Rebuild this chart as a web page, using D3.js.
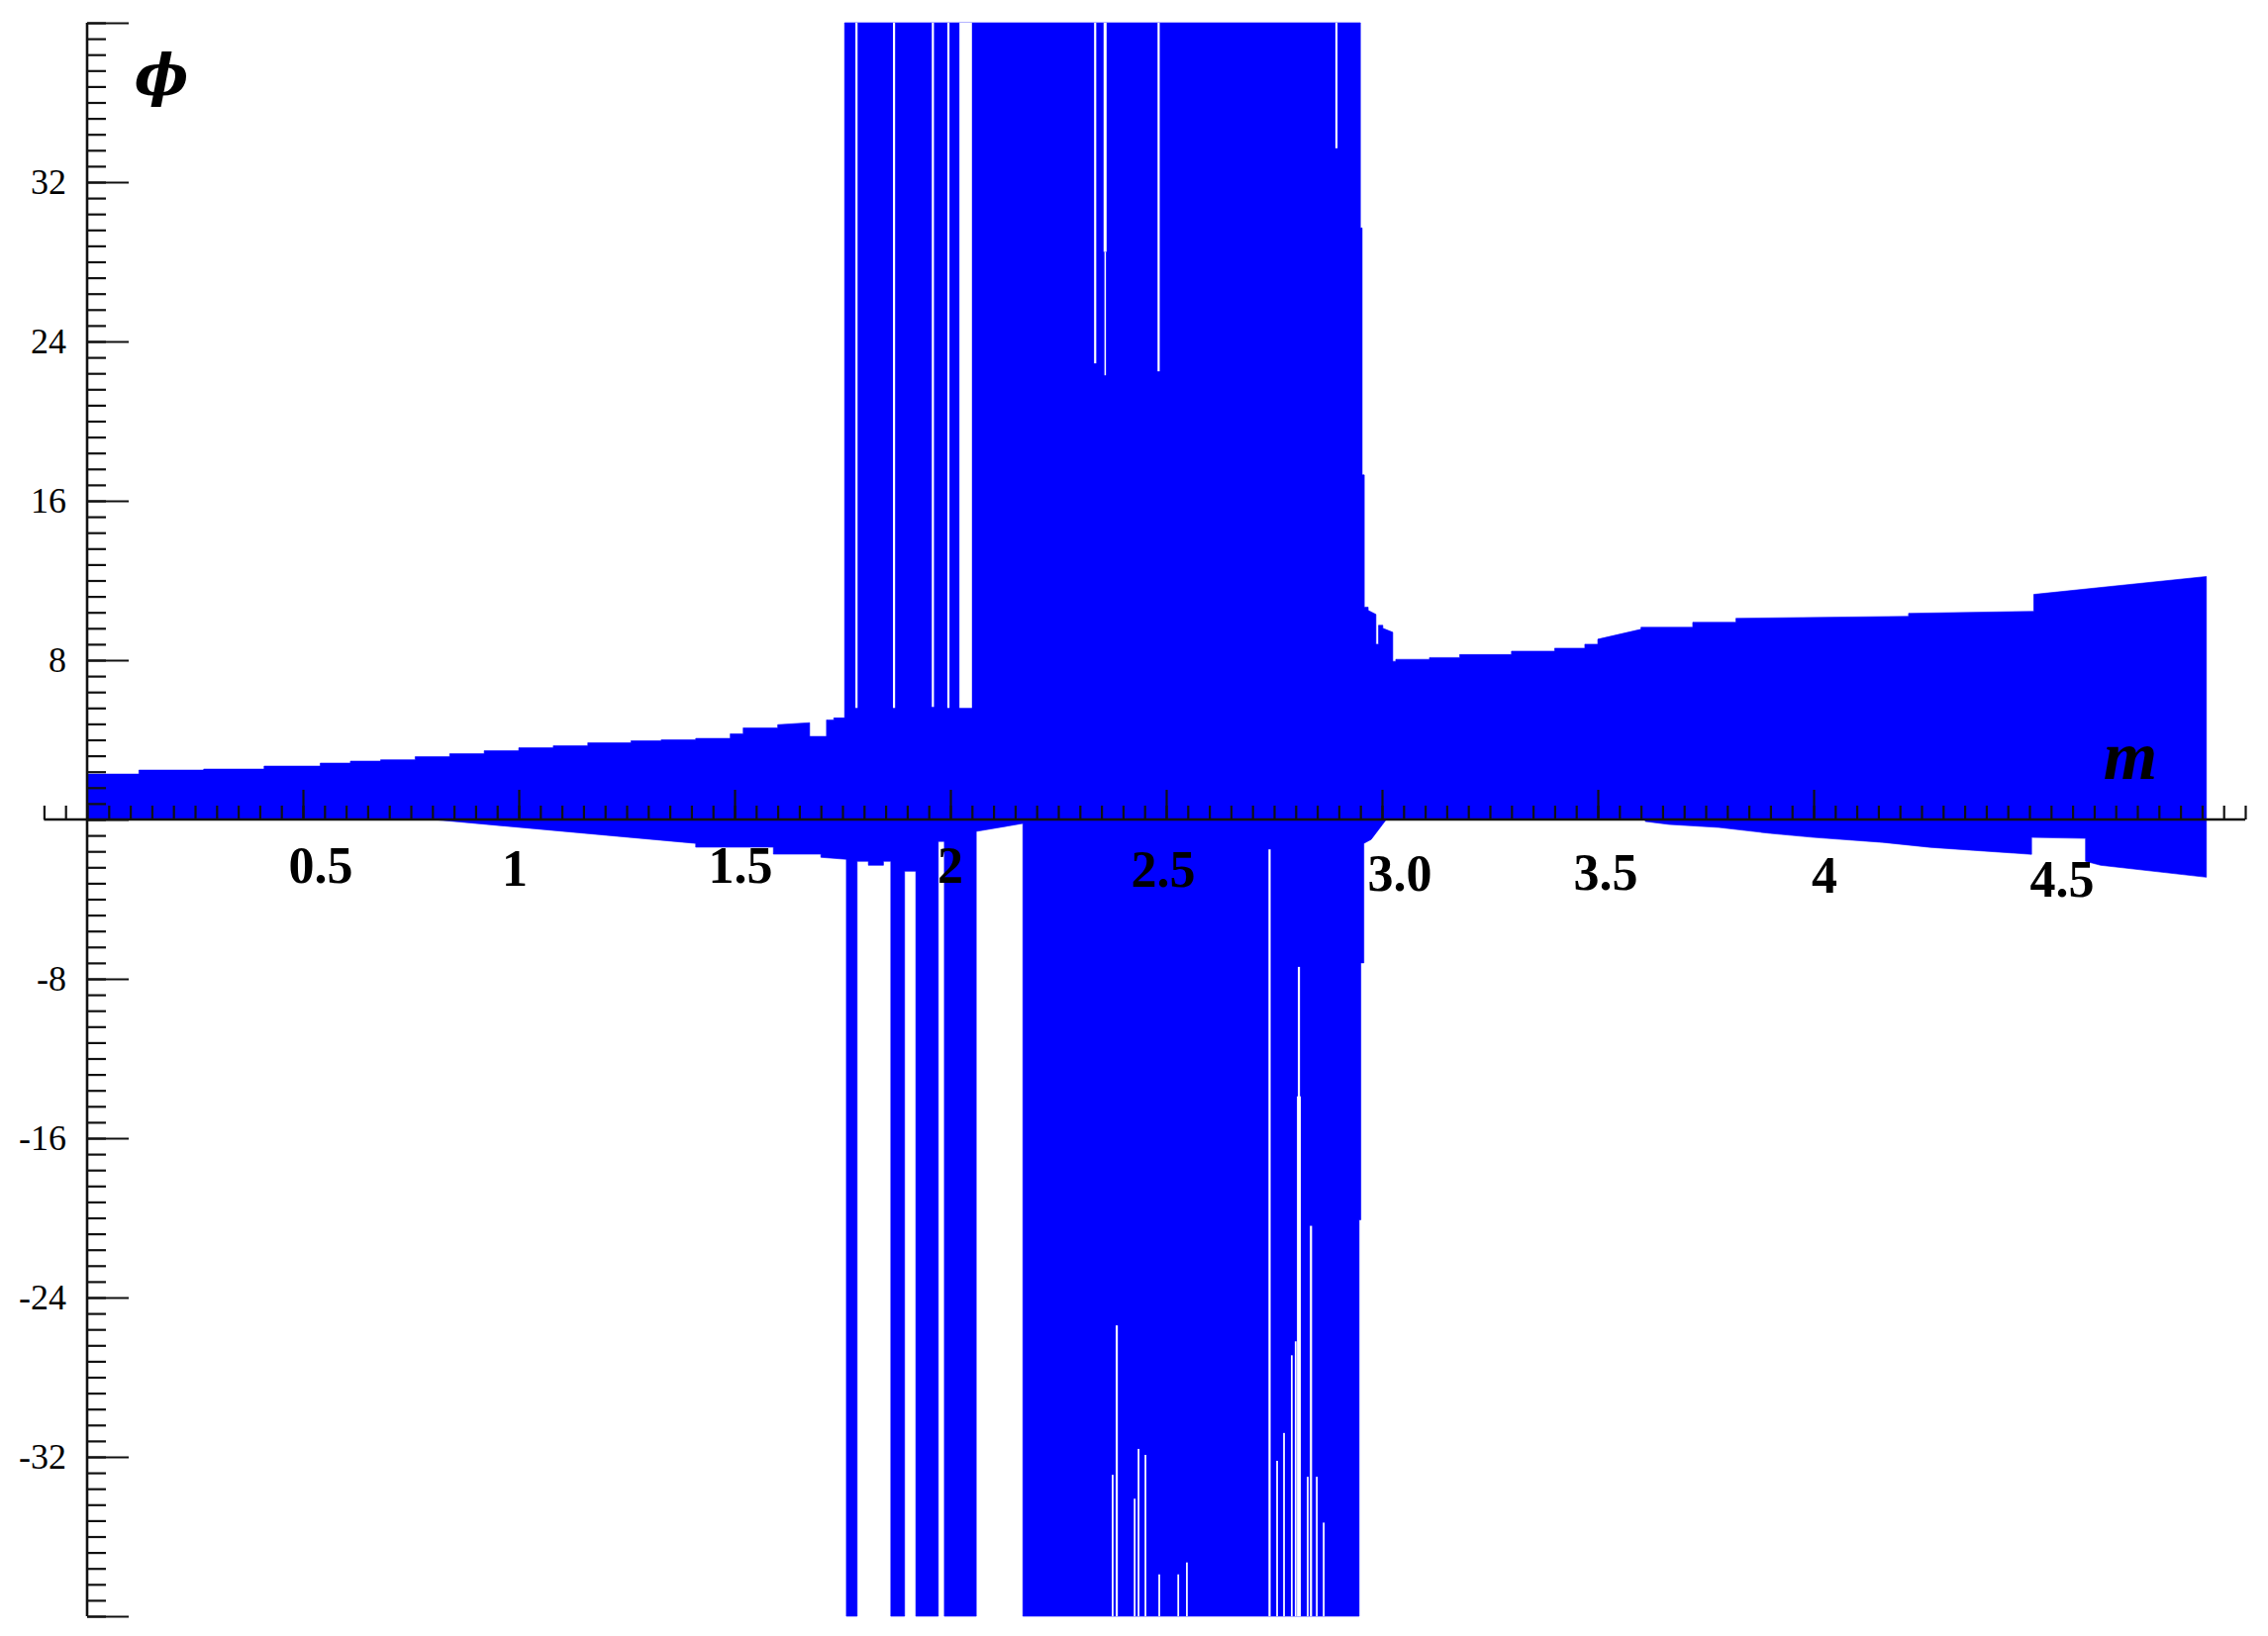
<!DOCTYPE html>
<html><head><meta charset="utf-8">
<script src="https://cdn.jsdelivr.net/npm/d3@7/dist/d3.min.js"></script>
<style>body{margin:0;background:#fff}svg{display:block}</style>
</head><body>
<svg id="chart" width="2291" height="1653"></svg>
<script>
// ---------- data ----------
// upper envelope: segment i spans upperM[i]..upperM[i+1], phi from upperStart[i] to upperEnd[i]
const upperM =     [0,0.12,0.27,0.41,0.54,0.61,0.68,0.76,0.84,0.92,1.0,1.08,1.16,1.26,1.33,1.41,1.49,1.52,1.60,1.674,1.713,1.73,1.755,2.950,2.954,2.959,2.968,2.986,2.992,3.002,3.025,3.032,3.11,3.18,3.30,3.40,3.47,3.50,3.60,3.72,3.82,4.22,4.51,4.91];
const upperStart = [2.28,2.48,2.53,2.68,2.83,2.93,3.0,3.15,3.3,3.45,3.6,3.7,3.85,3.95,4.0,4.07,4.3,4.6,4.76,4.17,5.0,5.1,40,29.7,17.3,10.66,10.5,8.8,9.75,9.6,7.94,8.04,8.13,8.28,8.45,8.6,8.8,9.05,9.65,9.9,10.1,10.35,11.3];
const upperEnd =   [2.28,2.48,2.53,2.68,2.83,2.93,3.0,3.15,3.3,3.45,3.6,3.7,3.85,3.95,4.0,4.07,4.3,4.6,4.86,4.17,5.0,5.1,40,29.7,17.3,10.66,10.3,8.8,9.75,9.4,7.94,8.04,8.13,8.28,8.45,8.6,8.8,9.55,9.65,9.9,10.2,10.45,12.2];

// lower envelope
const lowerM =     [0,0.80,1.41,1.59,1.70,1.759,1.784,1.81,1.845,1.862,1.894,1.920,1.972,1.986,2.060,2.168,2.947,2.951,2.958,2.975,3.01,3.61,3.665,3.78,3.90,4.0,4.16,4.27,4.37,4.505,4.63,4.665,4.91];
const lowerStart = [0,0,-1.39,-1.74,-1.9,-40,-2.1,-2.3,-2.1,-40,-2.6,-40,-1.1,-40,-0.6,-40,-20.1,-7.2,-1.2,-1.0,0,-0.1,-0.25,-0.4,-0.7,-0.9,-1.15,-1.4,-1.55,-0.9,-2.1,-2.3];
const lowerEnd =   [0,-1.2,-1.39,-1.74,-2.0,-40,-2.1,-2.3,-2.1,-40,-2.6,-40,-1.1,-40,-0.2,-40,-20.1,-7.2,-1.0,0,0,-0.25,-0.4,-0.7,-0.9,-1.15,-1.4,-1.55,-1.75,-0.95,-2.3,-2.9];

// white gaps inside the blue region: m from gapM0 to gapM1, phi from gapTop to gapBottom
const gapM0 =     [1.780,1.867,1.957,1.993,2.021,2.333,2.355,2.357,2.480,2.892, 2.737,2.805,2.803,2.833,2.383,2.374,2.425,2.434,2.450,2.482,2.526,2.546,2.755,2.771,2.789,2.798,2.826,2.847,2.863];
const gapM1 =     [1.785,1.872,1.962,1.998,2.050,2.338,2.362,2.360,2.485,2.897, 2.742,2.810,2.812,2.838,2.388,2.378,2.429,2.438,2.454,2.486,2.530,2.550,2.759,2.775,2.793,2.802,2.830,2.851,2.867];
const gapTop =    [40,40,40,40,40,40,40,28.5,40,40, -1.5,-7.4,-13.9,-20.4,-25.4,-32.9,-34.1,-31.6,-31.9,-37.9,-37.9,-37.3,-32.2,-30.8,-26.9,-26.2,-33.0,-33.0,-35.3];
const gapBottom = [5.6,5.6,5.65,5.6,5.6,22.9,28.5,22.3,22.5,33.7, -40,-40,-40,-40,-40,-40,-40,-40,-40,-40,-40,-40,-40,-40,-40,-40,-40,-40,-40];

// ticks
const xTickValues = [0.5,1,1.5,2,2.5,3,3.5,4,4.5];
const xTickLabels = ["0.5","1","1.5","2","2.5","3.0","3.5","4","4.5"];
const xLongTicks  = [0.5,1,1.5,2,2.5,3,3.5,4];
const yTickValues = [-32,-24,-16,-8,8,16,24,32];
const yTickLabels = ["-32","-24","-16","-8","8","16","24","32"];

// ---------- drawing ----------
const svg = d3.select("#chart");
const x = d3.scaleLinear().domain([0,5]).range([88,2268]);
const y = d3.scaleLinear().domain([-40,40]).range([1633,23]);
const BLUE = "#0000ff";
// hand placement of the x tick labels in the original (pixel nudges)
const labelDx = [18,-4,6,0,-3,18,8,11,33];
const labelDy = [64,67,64,64,68,72,71,74,78];

function segPoints(M, S, E){
  const pts = [];
  for (let i = 0; i < S.length; i++){ pts.push([M[i], S[i]]); pts.push([M[i+1], E[i]]); }
  return pts;
}
const area = d3.area().x(d => x(d[0])).y0(y(0)).y1(d => y(d[1])).curve(d3.curveLinear);

svg.append("path").datum(segPoints(upperM, upperStart, upperEnd))
  .attr("d", area).attr("fill", BLUE).attr("stroke", BLUE).attr("stroke-width", 0.6);
svg.append("path").datum(segPoints(lowerM, lowerStart, lowerEnd))
  .attr("d", area).attr("fill", BLUE).attr("stroke", BLUE).attr("stroke-width", 0.6);

svg.append("g").selectAll("rect").data(d3.range(gapM0.length)).join("rect")
  .attr("x", i => x(gapM0[i]))
  .attr("width", i => Math.max(1.5, x(gapM1[i]) - x(gapM0[i])))
  .attr("y", i => y(gapTop[i]))
  .attr("height", i => y(gapBottom[i]) - y(gapTop[i]))
  .attr("fill", "#fff");

// ---- y axis ----
const yMinor = d3.range(-50, 51).map(i => +(i*0.8).toFixed(2));
const yMajor = d3.range(-5, 6).map(i => i*8);
const gyMinor = svg.append("g").attr("transform", `translate(${x(0)},0)`)
  .call(d3.axisRight(y).tickValues(yMinor).tickSize(19).tickSizeOuter(0).tickFormat(""));
const gyMajor = svg.append("g").attr("transform", `translate(${x(0)},0)`)
  .call(d3.axisRight(y).tickValues(yMajor).tickSize(42).tickSizeOuter(0).tickFormat(""));
const gyLab = svg.append("g").attr("transform", `translate(${x(0)},0)`)
  .call(d3.axisLeft(y).tickValues(yTickValues).tickSize(0).tickPadding(21)
    .tickFormat((d,i) => yTickLabels[i]));
[gyMinor, gyMajor, gyLab].forEach(g => g.select(".domain").remove());
gyLab.selectAll("text").attr("font-family","Liberation Serif, serif").attr("font-size",36).attr("fill","#000");
svg.selectAll("g .tick line").attr("stroke","#111").attr("stroke-width",2.2);

// ---- x axis ----
const xMinor = d3.range(-2, 101).map(i => +(i*0.05).toFixed(2));
const gxMinor = svg.append("g").attr("transform", `translate(0,${y(0)})`)
  .call(d3.axisTop(x).tickValues(xMinor).tickSize(14).tickSizeOuter(0).tickFormat(""));
const gxMajor = svg.append("g").attr("transform", `translate(0,${y(0)})`)
  .call(d3.axisTop(x).tickValues(xLongTicks).tickSize(30).tickSizeOuter(0).tickFormat(""));
[gxMinor, gxMajor].forEach(g => { g.select(".domain").remove(); g.selectAll("line").attr("stroke","#111").attr("stroke-width",2.2); });

// axis lines
svg.append("line").attr("x1", x(0)).attr("x2", x(0)).attr("y1", y(40)).attr("y2", y(-40))
  .attr("stroke","#111").attr("stroke-width",2.6);
svg.append("line").attr("x1", x(-0.1)).attr("x2", x(5.0)).attr("y1", y(0)).attr("y2", y(0))
  .attr("stroke","#111").attr("stroke-width",2.6);

// x tick labels
svg.append("g").selectAll("text").data(xTickValues).join("text")
  .attr("x", (d,i) => x(d) + labelDx[i]).attr("y", (d,i) => y(0) + labelDy[i])
  .attr("text-anchor","middle")
  .attr("font-family","Liberation Serif, serif").attr("font-weight","bold").attr("font-size",52)
  .attr("fill","#000")
  .text((d,i) => xTickLabels[i]);

// axis titles
svg.append("text").attr("x", 163).attr("y", 96).attr("text-anchor","middle")
  .attr("font-family","DejaVu Serif, serif").attr("font-weight","bold").attr("font-style","italic")
  .attr("font-size",58).attr("fill","#000").text("ϕ");
svg.append("text").attr("x", 2152).attr("y", 787).attr("text-anchor","middle")
  .attr("font-family","Liberation Serif, serif").attr("font-weight","bold").attr("font-style","italic")
  .attr("font-size",70).attr("fill","#000").text("m");
</script>
</body></html>
